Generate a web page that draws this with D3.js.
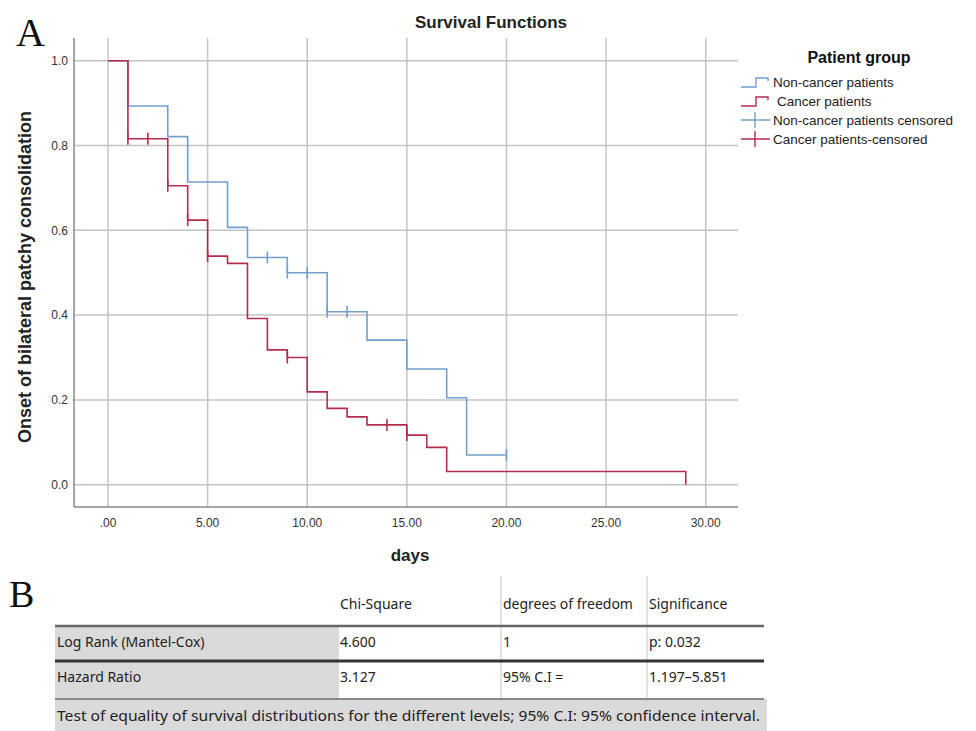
<!DOCTYPE html>
<html>
<head>
<meta charset="utf-8">
<script src="https://cdn.jsdelivr.net/npm/d3@7/dist/d3.min.js"></script>
<style>
    body { margin: 0; background: #fff; }
    text { font-family: "Liberation Sans", Arial, sans-serif; }
    .tbl text { font-family: "Noto Sans", "Open Sans", sans-serif; font-size: 14px; fill: #222; }
</style>
</head>
<body>
<svg id="chart" width="976" height="731"></svg>
<script>
// Survival data (days, cumulative survival)
var nonCancerTimes = [0, 1, 3, 4, 6, 7, 9, 11, 13, 15, 17, 18, 20];
var nonCancerSurv = [1.0, 0.893, 0.821, 0.714, 0.607, 0.536, 0.500, 0.408, 0.341, 0.273, 0.205, 0.070, 0.070];
var nonCancerCensored = [8, 9, 10, 11, 12, 20];

var cancerTimes = [0, 1, 3, 4, 5, 6, 7, 8, 9, 10, 11, 12, 13, 15, 16, 17, 29];
var cancerSurv = [1.0, 0.816, 0.705, 0.624, 0.539, 0.522, 0.392, 0.318, 0.300, 0.219, 0.180, 0.160, 0.141, 0.117, 0.088, 0.031, 0.0];
var cancerCensored = [1, 2, 3, 4, 5, 9, 14, 15];

var xTicks = [0, 5, 10, 15, 20, 25, 30];
var xTickLabels = ['.00', '5.00', '10.00', '15.00', '20.00', '25.00', '30.00'];
var yTicks = [0, 0.2, 0.4, 0.6, 0.8, 1.0];
var yTickLabels = ['0.0', '0.2', '0.4', '0.6', '0.8', '1.0'];

var legendLabels = ['Non-cancer patients', 'Cancer patients', 'Non-cancer patients censored', 'Cancer patients-censored'];

var tableHeaders = ['', 'Chi-Square', 'degrees of freedom', 'Significance'];
var tableRows = [
    ['Log Rank (Mantel-Cox)', '4.600', '1', 'p: 0.032'],
    ['Hazard Ratio', '3.127', '95% C.I =', '1.197\u20135.851']
];
var tableNote = 'Test of equality of survival distributions for the different levels; 95% C.I: 95% confidence interval.';

var blue = '#729fd0';
var red = '#b52c4d';

var svg = d3.select('#chart');
svg.append('rect').attr('width', 976).attr('height', 731).attr('fill', '#fff');

// plot frame
var plot = {left: 74, right: 738, top: 38, bottom: 507};
var x = d3.scaleLinear().domain([0, 30]).range([108, 705.7]);
var y = d3.scaleLinear().domain([0, 1]).range([484.7, 60.7]);

// grid
svg.append('g').selectAll('line')
    .data(xTicks)
    .enter()
    .append('line')
    .attr('x1', function (d) { return x(d); })
    .attr('x2', function (d) { return x(d); })
    .attr('y1', plot.top)
    .attr('y2', plot.bottom)
    .attr('stroke', '#c4c4c4')
    .attr('stroke-width', 1.5);
svg.append('g').selectAll('line')
    .data(yTicks)
    .enter()
    .append('line')
    .attr('x1', plot.left)
    .attr('x2', plot.right)
    .attr('y1', function (d) { return y(d); })
    .attr('y2', function (d) { return y(d); })
    .attr('stroke', '#c4c4c4')
    .attr('stroke-width', 1.5);

// axes lines
svg.append('line').attr('x1', plot.left).attr('x2', plot.left)
    .attr('y1', plot.top).attr('y2', plot.bottom)
    .attr('stroke', '#888').attr('stroke-width', 1.5);
svg.append('line').attr('x1', plot.left).attr('x2', plot.right)
    .attr('y1', plot.bottom).attr('y2', plot.bottom)
    .attr('stroke', '#888').attr('stroke-width', 1.5);

// tick labels
svg.append('g').selectAll('text')
    .data(yTicks)
    .enter()
    .append('text')
    .attr('x', 68)
    .attr('y', function (d) { return y(d); })
    .attr('dy', '0.35em')
    .attr('text-anchor', 'end')
    .style('font-size', '12px')
    .style('fill', '#333')
    .text(function (_d, i) { return yTickLabels[i]; });
svg.append('g').selectAll('text')
    .data(xTicks)
    .enter()
    .append('text')
    .attr('x', function (d) { return x(d); })
    .attr('y', 523)
    .attr('dy', '0.35em')
    .attr('text-anchor', 'middle')
    .style('font-size', '12px')
    .style('fill', '#333')
    .text(function (_d, i) { return xTickLabels[i]; });

// titles
svg.append('text').attr('x', 491).attr('y', 22).attr('dy', '0.35em')
    .attr('text-anchor', 'middle')
    .style('font-size', '17px').style('font-weight', 'bold').style('fill', '#222')
    .text('Survival Functions');
svg.append('text').attr('x', 410).attr('y', 555).attr('dy', '0.35em')
    .attr('text-anchor', 'middle')
    .style('font-size', '17px').style('font-weight', 'bold').style('fill', '#222')
    .text('days');
svg.append('text')
    .attr('transform', 'translate(25,' + 277 + ') rotate(-90)')
    .attr('dy', '0.35em')
    .attr('text-anchor', 'middle')
    .style('font-size', '18px').style('font-weight', 'bold').style('fill', '#222')
    .text('Onset of bilateral patchy consolidation');
svg.append('text').attr('x', 16).attr('y', 46)
    .style('font-family', '"Liberation Serif", "DejaVu Serif", serif')
    .style('font-size', '40px').style('fill', '#111')
    .text('A');

// survival step curves
var stepLine = d3.line()
    .x(function (d) { return x(d[0]); })
    .y(function (d) { return y(d[1]); })
    .curve(d3.curveStepAfter);

function survAt(times, surv, t) {
    var i = d3.bisectRight(times, t) - 1;
    return surv[Math.max(0, i)];
}

function drawGroup(times, surv, censored, color) {
    svg.append('path')
        .datum(d3.zip(times, surv))
        .attr('d', stepLine)
        .attr('fill', 'none')
        .attr('stroke', color)
        .attr('stroke-width', 1.6);
    svg.append('g').selectAll('line')
        .data(censored)
        .enter()
        .append('line')
        .attr('x1', function (d) { return x(d); })
        .attr('x2', function (d) { return x(d); })
        .attr('y1', function (d) { return y(survAt(times, surv, d)) - 6; })
        .attr('y2', function (d) { return y(survAt(times, surv, d)) + 6; })
        .attr('stroke', color)
        .attr('stroke-width', 1.6);
}
drawGroup(nonCancerTimes, nonCancerSurv, nonCancerCensored, blue);
drawGroup(cancerTimes, cancerSurv, cancerCensored, red);

// legend
svg.append('text').attr('x', 859).attr('y', 57).attr('dy', '0.35em')
    .attr('text-anchor', 'middle')
    .style('font-size', '16px').style('font-weight', 'bold').style('fill', '#111')
    .text('Patient group');
var legendY = [82, 101, 120, 139];
var legendColors = [blue, red, blue, red];
var legend = svg.append('g').selectAll('g')
    .data(legendLabels)
    .enter()
    .append('g')
    .attr('transform', function (_d, i) { return 'translate(0,' + legendY[i] + ')'; });
legend.append('path')
    .attr('d', function (_d, i) {
        if (i < 2) {
            return 'M741,5 H756 V-4 H768 V-1';
        }
        return 'M741,0 H770 M755,-8 V8';
    })
    .attr('fill', 'none')
    .attr('stroke', function (_d, i) { return legendColors[i]; })
    .attr('stroke-width', 1.4);
legend.append('text')
    .attr('x', function (_d, i) { return i === 1 ? 777 : 773; })
    .attr('dy', '0.35em')
    .style('font-size', '13.5px')
    .style('fill', '#222')
    .text(function (d) { return d; });

// panel B table
svg.append('text').attr('x', 9).attr('y', 607)
    .style('font-family', '"Liberation Serif", "DejaVu Serif", serif')
    .style('font-size', '38px').style('fill', '#111')
    .text('B');

var tbl = svg.append('g').attr('class', 'tbl');
var colX = [57, 340, 503, 649];
var rowY = [604, 642, 677];

tbl.append('rect').attr('x', 55).attr('y', 627).attr('width', 284).attr('height', 72).attr('fill', '#dadada');
tbl.append('rect').attr('x', 55).attr('y', 699).attr('width', 712).attr('height', 32).attr('fill', '#dadada');

tbl.selectAll('line.vsep')
    .data([501, 647])
    .enter()
    .append('line')
    .attr('class', 'vsep')
    .attr('x1', function (d) { return d; })
    .attr('x2', function (d) { return d; })
    .attr('y1', 576)
    .attr('y2', 699)
    .attr('stroke', '#cfcfcf')
    .attr('stroke-width', 1.2);

var hLines = [{y: 626, c: '#666', w: 2.5}, {y: 661, c: '#333', w: 2.8}, {y: 699, c: '#888', w: 2}];
tbl.selectAll('line.hsep')
    .data(hLines)
    .enter()
    .append('line')
    .attr('class', 'hsep')
    .attr('x1', 55)
    .attr('x2', 764)
    .attr('y1', function (d) { return d.y; })
    .attr('y2', function (d) { return d.y; })
    .attr('stroke', function (d) { return d.c; })
    .attr('stroke-width', function (d) { return d.w; });

var allRows = [tableHeaders].concat(tableRows);
allRows.forEach(function (row, r) {
    tbl.append('g').selectAll('text')
        .data(row)
        .enter()
        .append('text')
        .attr('x', function (_d, i) { return colX[i]; })
        .attr('y', rowY[r])
        .attr('dy', '0.35em')
        .text(function (d) { return d; });
});
tbl.append('text')
    .attr('x', 57)
    .attr('y', 716)
    .attr('dy', '0.35em')
    .attr('textLength', 703)
    .attr('lengthAdjust', 'spacingAndGlyphs')
    .text(tableNote);
</script>
</body>
</html>
